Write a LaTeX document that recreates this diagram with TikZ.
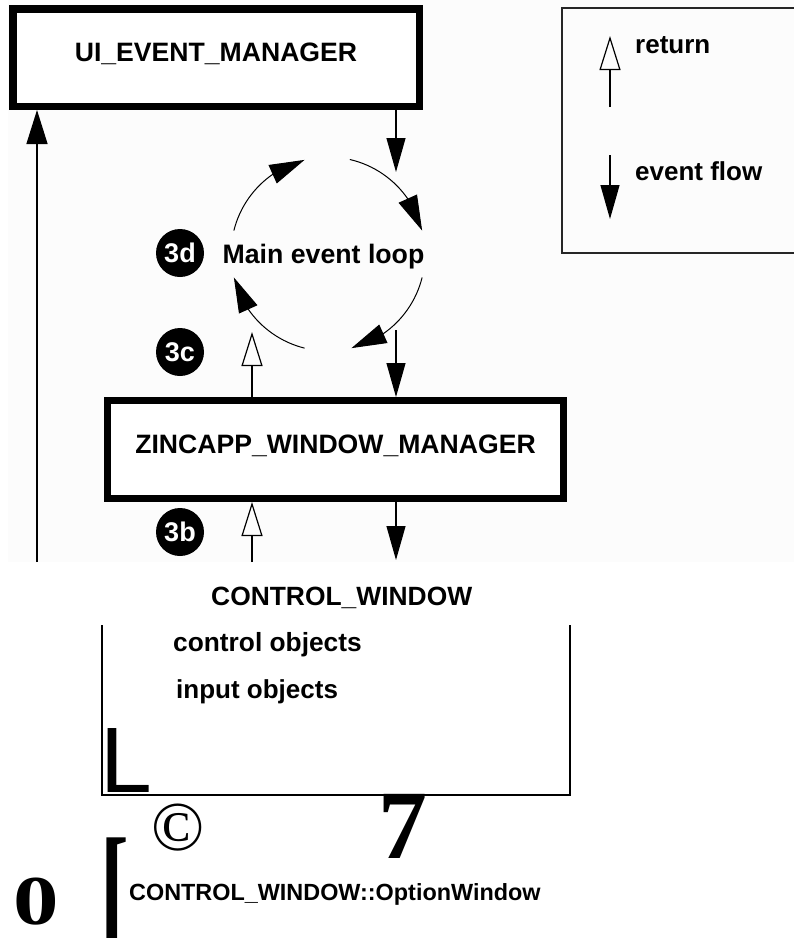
\documentclass[tikz,border=0pt]{standalone}
\usepackage{fontspec}
\setmainfont{Liberation Sans}
\newfontfamily\tms{Liberation Serif}
\usetikzlibrary{arrows.meta,calc,bending}
\definecolor{scanbg}{RGB}{252,252,252}
\begin{document}
\begin{tikzpicture}[x=1pt,y=-1pt,
  thickbox/.style={draw=black, line width=7.5pt, fill=white, inner sep=0pt,
    font=\fontsize{26.6pt}{30pt}\selectfont\bfseries, text height=0.716em, text depth=0pt},
  badge/.style={circle, fill=black, minimum size=48pt, inner sep=0pt, text=white,
    font=\fontsize{27pt}{28pt}\selectfont\bfseries},
  lab/.style={inner sep=0pt, anchor=base west, font=\fontsize{26pt}{30pt}\selectfont\bfseries},
  evarrow/.style={line width=1.2pt, -{Triangle[length=34pt,width=19pt]}},
  retarrow/.style={line width=1.2pt, -{Triangle[open,length=34pt,width=21pt]}},
  looparc/.style={line width=1pt, -{Triangle[length=35pt,width=20pt]}},
  thinline/.style={line width=1.1pt, black}
]
\useasboundingbox (0,0) rectangle (794,938);
% scanned area background
\fill[scanbg] (8,0) rectangle (794,562);

% boxes
\node[thickbox, minimum width=406.5pt, minimum height=97.5pt] (uibox) at (216,57.5) {UI\_EVENT\_MANAGER};
\node[thickbox, line width=7pt, minimum width=456pt, minimum height=98pt] (zinc) at (335.5,449.5) {ZINCAPP\_WINDOW\_MANAGER};

% legend
\draw[line width=1.6pt, black!85] (794,8) -- (562,8) -- (562,253) -- (794,253);
\coordinate (lg1) at (610,107);
\coordinate (lg2) at (610,36);
\coordinate (lg3) at (610,155);
\coordinate (lg4) at (610,219);
\draw[retarrow] (lg1) -- (lg2);
\draw[evarrow] (lg3) -- (lg4);
\node[lab] (lret) at (635,53) {return};
\node[lab] (lev) at (635,180) {event flow};

% main event loop
\coordinate (lc) at (328,254);
\draw[looparc] ($(lc)+(166:97pt)$) arc[start angle=166, end angle=104, radius=97pt];
\draw[looparc] ($(lc)+(77:97pt)$) arc[start angle=77, end angle=14, radius=97pt];
\draw[looparc] ($(lc)+(-14:97pt)$) arc[start angle=-14, end angle=-76, radius=97pt];
\draw[looparc] ($(lc)+(-104:97pt)$) arc[start angle=-104, end angle=-166, radius=97pt];
\node[inner sep=0pt, anchor=base, font=\fontsize{26.7pt}{30pt}\selectfont\bfseries] (mel) at (323.5,263) {Main event loop};

% badges
\node[badge] (b3d) at (180,253) {3d};
\node[badge] (b3c) at (180,352) {3c};
\node[badge] (b3b) at (180,532) {3b};

% connectors
\coordinate (lb) at (37,562);
\coordinate (rx) at (396,0);
\coordinate (ux) at (252,0);
\coordinate (t1) at (396,172);
\coordinate (loopout) at (396,330);
\coordinate (loopin) at (252,332);
\coordinate (cwin) at (252,562);
\coordinate (cwout) at (396,560);
\draw[line width=1.4pt, -{Triangle[length=34pt,width=21pt]}] (lb) -- (uibox.south -| lb);
\draw[evarrow] (uibox.south -| rx) -- (t1);
\draw[evarrow] (loopout) -- (zinc.north -| rx);
\draw[retarrow] (zinc.north -| ux) -- (loopin);
\draw[retarrow] (cwin) -- (zinc.south -| ux);
\draw[evarrow] (zinc.south -| rx) -- (cwout);

% lower part
\node[lab, font=\fontsize{26.4pt}{30pt}\selectfont\bfseries] (cw) at (211,605) {CONTROL\_WINDOW};
\draw[thinline] (102,625) -- (102,795) -- (570,795) -- (570,625);
\node[lab, font=\fontsize{26.3pt}{30pt}\selectfont\bfseries] (co) at (173,651) {control objects};
\node[lab] (io) at (176,698) {input objects};
\node[inner sep=0pt, anchor=base west, font=\fontsize{93pt}{100pt}\selectfont] (bigl) at (100,792) {L};
\node[inner sep=0pt, anchor=center, font=\tms\fontsize{70pt}{72pt}\selectfont] (copy) at (178,828) {©};
\node[inner sep=0pt, anchor=base west, font=\tms\bfseries\fontsize{98pt}{100pt}\selectfont] (seven) at (378,858) {7};
\node[inner sep=0pt, anchor=base west, font=\tms\bfseries\fontsize{70pt}{72pt}\selectfont] (zero) at (13,924) {\scalebox{1.3}[1]{0}};
\node[inner sep=0pt, anchor=north west, font=\tms\bfseries\fontsize{135pt}{135pt}\selectfont] (brk) at (100,838) {\scalebox{0.64}[1]{[}};
\node[inner sep=0pt, anchor=base west, font=\fontsize{23.4pt}{26pt}\selectfont\bfseries] (opt) at (129,900) {CONTROL\_WINDOW::OptionWindow};
\end{tikzpicture}
\end{document}
